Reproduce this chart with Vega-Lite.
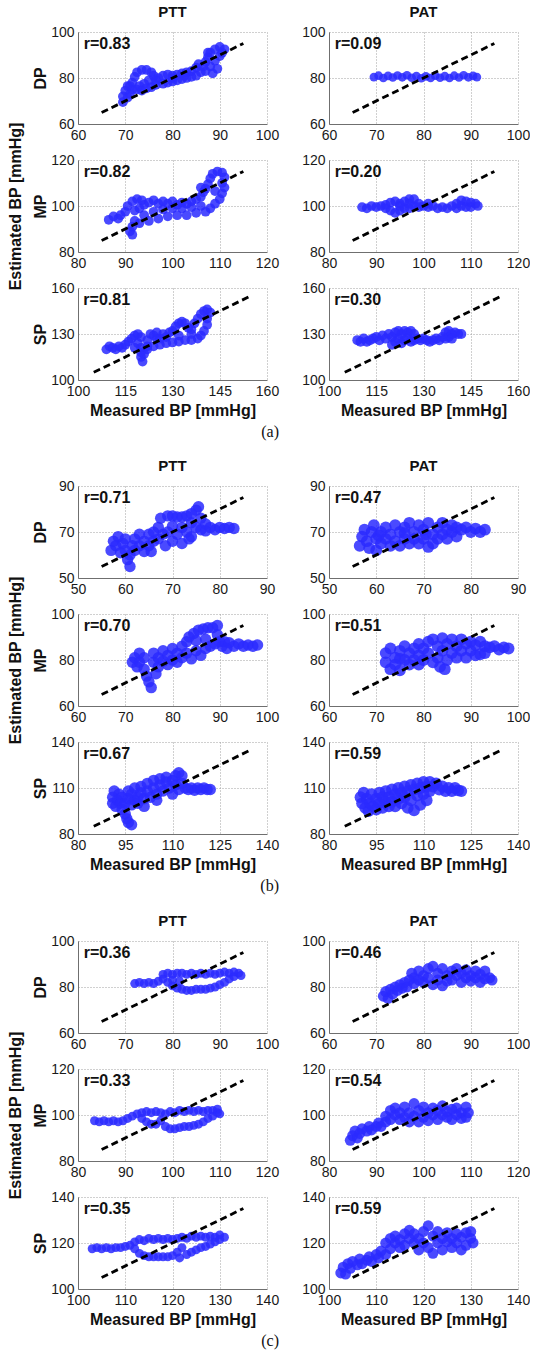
{
"$schema":"https://vega.github.io/schema/vega-lite/v6.json",
"padding":{"left":7,"top":5,"right":0,"bottom":4},
"columns":2,
"spacing":{"row":36,"column":62},
"bounds":"flush",
"align":"each",
"config":{
"view":{"stroke":null},
"font":"Liberation Sans",
"axis":{"labelFont":"Liberation Sans","labelFontSize":14,"labelColor":"#1a1a1a","labelFlush":false,"labelOverlap":false,"labelBound":false,"ticks":false,"domainColor":"#6f6f6f","domainWidth":1,"gridColor":"#a0a0a0","gridDash":[1,2],"gridWidth":1,"titleFont":"Liberation Sans","titleFontSize":16,"titleFontWeight":"bold","titleColor":"#111"},
"axisX":{"labelPadding":4,"titlePadding":4},
"axisY":{"labelPadding":4,"titleX":-30,"titleLineHeight":25},
"title":{"font":"Liberation Sans","fontSize":15,"fontWeight":"bold","color":"#111","offset":5,"anchor":"middle"},
"point":{"shape":"circle","filled":true,"opacity":0.85,"color":"#2a2aff"},
"line":{"color":"black","strokeWidth":2.8,"strokeDash":[7,4]},
"text":{"align":"left","baseline":"middle","fontSize":16,"fontWeight":"bold","font":"Liberation Sans","color":"#111"}
},
"datasets":{
"aDt":[{"x":69.5,"y":69.5},{"x":69.5,"y":72},{"x":70,"y":74.5},{"x":70.5,"y":76.5},{"x":71,"y":73},{"x":71.5,"y":75},{"x":71.5,"y":78},{"x":72,"y":80.5},{"x":72.5,"y":82.5},{"x":73.5,"y":83.5},{"x":74.5,"y":83.5},{"x":75.5,"y":82.5},{"x":76,"y":81},{"x":75,"y":79},{"x":74,"y":77.5},{"x":73,"y":76.5},{"x":72.5,"y":75},{"x":73.5,"y":74.5},{"x":74.5,"y":75.5},{"x":75.5,"y":76},{"x":76.5,"y":77},{"x":77,"y":80},{"x":78,"y":81},{"x":79,"y":81.5},{"x":80,"y":81},{"x":81,"y":81.5},{"x":82,"y":82},{"x":83,"y":82.5},{"x":84,"y":83},{"x":78,"y":77.5},{"x":79,"y":78},{"x":80,"y":78.5},{"x":81,"y":79},{"x":82,"y":79.5},{"x":83,"y":80},{"x":84,"y":80.5},{"x":85,"y":81},{"x":85,"y":84.5},{"x":85.5,"y":86},{"x":86,"y":82.5},{"x":86.5,"y":85},{"x":87,"y":87},{"x":87,"y":83},{"x":87.5,"y":89},{"x":88,"y":85},{"x":88,"y":91},{"x":88.5,"y":82},{"x":89,"y":87.5},{"x":89,"y":92.5},{"x":89.5,"y":84},{"x":90,"y":89.5},{"x":90,"y":93.5},{"x":90.5,"y":91},{"x":91,"y":92.5},{"x":87.5,"y":91},{"x":76.5,"y":79},{"x":80,"y":80},{"x":82.5,"y":81},{"x":71,"y":76.5},{"x":70.5,"y":71.5}],
"aDa":[{"x":69.5,"y":80.4},{"x":70.5,"y":81},{"x":71.5,"y":80},{"x":72.5,"y":80.9},{"x":73.5,"y":80.2},{"x":74.5,"y":81.1},{"x":75.5,"y":80.3},{"x":76.5,"y":81.2},{"x":77.5,"y":80.1},{"x":78.5,"y":80.8},{"x":79.5,"y":79.9},{"x":80.5,"y":80.7},{"x":81.5,"y":80},{"x":82.5,"y":81},{"x":83.5,"y":80.1},{"x":84.5,"y":80.8},{"x":85.5,"y":80},{"x":86.5,"y":81},{"x":87.5,"y":80.2},{"x":88.5,"y":81.2},{"x":89.5,"y":80.3},{"x":90.5,"y":80.9},{"x":91.3,"y":80.4}],
"aMt":[{"x":86.5,"y":94},{"x":87.5,"y":95.5},{"x":88.5,"y":94.5},{"x":89,"y":96},{"x":90,"y":97.5},{"x":90.5,"y":100},{"x":91.5,"y":102},{"x":92.5,"y":103},{"x":93.5,"y":102.5},{"x":94,"y":100.5},{"x":93,"y":99},{"x":92,"y":98},{"x":95,"y":101.5},{"x":96,"y":102.5},{"x":97,"y":101},{"x":98,"y":102},{"x":99,"y":101},{"x":100,"y":102},{"x":101,"y":100.5},{"x":102,"y":101.5},{"x":103,"y":101},{"x":104,"y":102},{"x":105,"y":103},{"x":106,"y":104},{"x":106.5,"y":106},{"x":107,"y":107.5},{"x":106,"y":108},{"x":107.5,"y":109.5},{"x":108,"y":112},{"x":108.5,"y":114},{"x":109.5,"y":115},{"x":110.5,"y":114.5},{"x":111,"y":112.5},{"x":110.5,"y":110},{"x":111,"y":108},{"x":110.5,"y":105.5},{"x":110,"y":103},{"x":109,"y":101},{"x":108,"y":99},{"x":107,"y":97.5},{"x":105,"y":97},{"x":103,"y":96},{"x":101,"y":96},{"x":99,"y":95.5},{"x":97,"y":94.5},{"x":95,"y":93.5},{"x":93,"y":92.5},{"x":91.5,"y":91},{"x":91,"y":89},{"x":91.5,"y":87.5},{"x":92,"y":93.5},{"x":94,"y":96},{"x":96,"y":97.5},{"x":98,"y":98.5},{"x":100,"y":99},{"x":102,"y":99},{"x":104,"y":99.5},{"x":106,"y":100},{"x":109,"y":106.5}],
"aMa":[{"x":87,"y":99.5},{"x":88,"y":99},{"x":89,"y":100},{"x":90,"y":99.5},{"x":91,"y":100},{"x":92,"y":100.5},{"x":93,"y":101.5},{"x":93,"y":98},{"x":94,"y":102},{"x":94,"y":97},{"x":95,"y":101},{"x":95,"y":98},{"x":96,"y":102},{"x":96,"y":99},{"x":97,"y":103},{"x":97,"y":99},{"x":98,"y":103},{"x":98,"y":100},{"x":99,"y":99.5},{"x":100,"y":100},{"x":101,"y":99.5},{"x":102,"y":100},{"x":103,"y":99},{"x":104,"y":99.5},{"x":105,"y":99},{"x":106,"y":100},{"x":107,"y":101},{"x":107,"y":99},{"x":108,"y":102.5},{"x":108,"y":100},{"x":109,"y":102},{"x":109,"y":99.5},{"x":110,"y":101.5},{"x":110,"y":99.5},{"x":111,"y":101},{"x":111.5,"y":100},{"x":92,"y":99},{"x":95,"y":100},{"x":97,"y":101},{"x":99,"y":101},{"x":101,"y":101}],
"aSt":[{"x":109,"y":120},{"x":110,"y":122},{"x":111,"y":121},{"x":112,"y":120},{"x":113,"y":122},{"x":114,"y":121},{"x":115,"y":123},{"x":116,"y":125},{"x":117,"y":127},{"x":118,"y":129},{"x":119,"y":130},{"x":120,"y":128},{"x":119,"y":124},{"x":120,"y":121},{"x":120,"y":118},{"x":120,"y":115},{"x":120.5,"y":112},{"x":121,"y":117},{"x":122,"y":122},{"x":122,"y":126},{"x":123,"y":130},{"x":124,"y":129},{"x":125,"y":127},{"x":125,"y":131},{"x":127,"y":130},{"x":128,"y":128},{"x":129,"y":131},{"x":130,"y":132},{"x":131,"y":135},{"x":132,"y":137},{"x":133,"y":138},{"x":134,"y":137},{"x":135,"y":134},{"x":136,"y":133},{"x":137,"y":137},{"x":138,"y":140},{"x":139,"y":143},{"x":140,"y":145},{"x":141,"y":146},{"x":142,"y":144},{"x":141,"y":140},{"x":141,"y":136},{"x":140,"y":132},{"x":139,"y":129},{"x":138,"y":127},{"x":136,"y":126},{"x":134,"y":126},{"x":132,"y":125},{"x":130,"y":124.5},{"x":128,"y":124},{"x":126,"y":123},{"x":124,"y":122},{"x":122,"y":120},{"x":118,"y":121},{"x":126,"y":127},{"x":132,"y":129},{"x":136,"y":130}],
"aSa":[{"x":109,"y":126},{"x":110,"y":125},{"x":111,"y":127},{"x":112,"y":125},{"x":113,"y":126},{"x":114,"y":127},{"x":115,"y":128},{"x":116,"y":126},{"x":117,"y":129},{"x":118,"y":127},{"x":119,"y":130},{"x":120,"y":128},{"x":120,"y":123},{"x":121,"y":131},{"x":121,"y":125},{"x":122,"y":132},{"x":122,"y":127},{"x":123,"y":130},{"x":123,"y":124},{"x":124,"y":132},{"x":124,"y":126},{"x":125,"y":131},{"x":125,"y":127},{"x":126,"y":132},{"x":126,"y":125},{"x":127,"y":130},{"x":127,"y":126},{"x":128,"y":127},{"x":129,"y":126},{"x":130,"y":127},{"x":131,"y":126},{"x":132,"y":125},{"x":133,"y":126},{"x":134,"y":127},{"x":135,"y":126},{"x":136,"y":128},{"x":137,"y":131},{"x":137,"y":127},{"x":138,"y":132},{"x":138,"y":128},{"x":139,"y":130},{"x":140,"y":131},{"x":141,"y":130},{"x":142,"y":130},{"x":139,"y":127}],
"bDt":[{"x":57,"y":62},{"x":57.5,"y":66},{"x":58,"y":64},{"x":58.5,"y":68},{"x":59,"y":61},{"x":59.5,"y":65},{"x":60,"y":67},{"x":60,"y":62},{"x":60.5,"y":58},{"x":61,"y":55},{"x":61,"y":60},{"x":61.5,"y":64},{"x":62,"y":67},{"x":62,"y":62},{"x":63,"y":69},{"x":63,"y":64},{"x":64,"y":66},{"x":64,"y":61.5},{"x":65,"y":69},{"x":65,"y":64},{"x":66,"y":70},{"x":66,"y":66},{"x":67,"y":72},{"x":67,"y":67},{"x":67.5,"y":76},{"x":68,"y":69},{"x":68.5,"y":64},{"x":69,"y":77},{"x":69,"y":70},{"x":70,"y":77},{"x":70,"y":66},{"x":71,"y":76.5},{"x":71,"y":69},{"x":72,"y":76.5},{"x":72,"y":72},{"x":72,"y":65},{"x":73,"y":77},{"x":73,"y":70},{"x":74,"y":78},{"x":74,"y":74},{"x":74,"y":68},{"x":75,"y":79.5},{"x":75,"y":72},{"x":75.5,"y":81},{"x":76,"y":76},{"x":76,"y":71},{"x":77,"y":73.5},{"x":77,"y":70.5},{"x":78,"y":72},{"x":79,"y":71},{"x":80,"y":72},{"x":81,"y":71.5},{"x":82,"y":72},{"x":83,"y":71.5},{"x":65.5,"y":61.5},{"x":70,"y":72.5},{"x":73.5,"y":67}],
"bDa":[{"x":56.5,"y":64},{"x":57,"y":68},{"x":57.5,"y":71},{"x":58,"y":66},{"x":58.5,"y":63},{"x":59,"y":70},{"x":59.5,"y":73},{"x":60,"y":67},{"x":60,"y":62},{"x":61,"y":70},{"x":61,"y":65},{"x":62,"y":72},{"x":62,"y":67},{"x":63,"y":69},{"x":63,"y":64},{"x":64,"y":73},{"x":64,"y":66},{"x":65,"y":70},{"x":65,"y":64},{"x":66,"y":72},{"x":66,"y":67},{"x":67,"y":74},{"x":67,"y":65},{"x":68,"y":70},{"x":68,"y":67},{"x":69,"y":73},{"x":69,"y":65},{"x":70,"y":71},{"x":70,"y":67},{"x":71,"y":74},{"x":71,"y":63.5},{"x":72,"y":69},{"x":72,"y":65},{"x":73,"y":72},{"x":73,"y":67},{"x":74,"y":74},{"x":74,"y":69},{"x":75,"y":71},{"x":75,"y":67},{"x":76,"y":73},{"x":76,"y":70},{"x":77,"y":72},{"x":77,"y":68},{"x":78,"y":71},{"x":79,"y":72},{"x":80,"y":70},{"x":81,"y":71.5},{"x":82,"y":70},{"x":83,"y":71},{"x":60.5,"y":68.5},{"x":66,"y":69.5},{"x":70.5,"y":69}],
"bMt":[{"x":71.5,"y":79},{"x":72,"y":81},{"x":72.5,"y":77},{"x":73,"y":83},{"x":73,"y":79},{"x":74,"y":81},{"x":74,"y":76},{"x":74.5,"y":73},{"x":75,"y":70.5},{"x":75.5,"y":68},{"x":76,"y":79},{"x":76,"y":83},{"x":77,"y":81},{"x":77,"y":77},{"x":78,"y":84},{"x":78,"y":79.5},{"x":79,"y":82},{"x":79,"y":78},{"x":80,"y":85},{"x":80,"y":80},{"x":81,"y":83},{"x":81,"y":79},{"x":82,"y":86},{"x":82,"y":81},{"x":83,"y":88},{"x":83,"y":83},{"x":83.5,"y":90},{"x":84,"y":80.5},{"x":84.5,"y":91.5},{"x":85,"y":84},{"x":85.5,"y":93},{"x":86,"y":82},{"x":86.5,"y":93.5},{"x":87,"y":85},{"x":87.5,"y":94},{"x":88,"y":86},{"x":88.5,"y":94},{"x":89,"y":87},{"x":89.5,"y":95},{"x":89.5,"y":91},{"x":90,"y":88},{"x":90.5,"y":86},{"x":91,"y":88},{"x":91.5,"y":85},{"x":92,"y":87.5},{"x":93,"y":86},{"x":94,"y":87},{"x":95,"y":86},{"x":96,"y":86.5},{"x":97,"y":86},{"x":98,"y":86.5},{"x":76.5,"y":74},{"x":85,"y":88.5},{"x":87,"y":89}],
"bMa":[{"x":72,"y":79},{"x":72,"y":83},{"x":73,"y":76},{"x":73,"y":85},{"x":74,"y":81},{"x":74,"y":78},{"x":75,"y":84},{"x":75,"y":75.5},{"x":76,"y":80},{"x":76,"y":86},{"x":77,"y":83},{"x":77,"y":78},{"x":78,"y":85},{"x":78,"y":80},{"x":79,"y":82},{"x":79,"y":78},{"x":80,"y":85},{"x":80,"y":80},{"x":81,"y":88},{"x":81,"y":83},{"x":82,"y":89},{"x":82,"y":79},{"x":83,"y":86},{"x":83,"y":81},{"x":83.5,"y":77},{"x":84,"y":89.5},{"x":84,"y":84},{"x":84.5,"y":76},{"x":85,"y":87},{"x":85,"y":80},{"x":86,"y":89},{"x":86,"y":83},{"x":87,"y":86},{"x":87,"y":81},{"x":88,"y":89},{"x":88,"y":84},{"x":89,"y":87},{"x":89,"y":81},{"x":90,"y":88},{"x":90,"y":84},{"x":91,"y":86.5},{"x":91,"y":82},{"x":92,"y":88},{"x":92,"y":82.5},{"x":93,"y":86},{"x":93,"y":83},{"x":94,"y":85.5},{"x":95,"y":86},{"x":96,"y":84.5},{"x":97,"y":85.5},{"x":98,"y":85},{"x":75,"y":80.5},{"x":79,"y":87}],
"bSt":[{"x":91,"y":100},{"x":91,"y":104},{"x":91.5,"y":108},{"x":92,"y":98},{"x":92.5,"y":102},{"x":93,"y":106},{"x":93.5,"y":100},{"x":94,"y":96},{"x":94,"y":104},{"x":95,"y":93},{"x":95.5,"y":90},{"x":96,"y":87.5},{"x":97,"y":86},{"x":95,"y":100},{"x":96,"y":108},{"x":96,"y":103},{"x":97,"y":99},{"x":97,"y":106},{"x":98,"y":102},{"x":98,"y":110},{"x":99,"y":104},{"x":99,"y":100},{"x":100,"y":107},{"x":100,"y":111},{"x":101,"y":103},{"x":102,"y":108},{"x":102,"y":113},{"x":103,"y":104},{"x":104,"y":110},{"x":104,"y":115},{"x":105,"y":106},{"x":106,"y":112},{"x":106,"y":116},{"x":107,"y":108},{"x":108,"y":114},{"x":108,"y":117},{"x":109,"y":110},{"x":110,"y":115},{"x":110,"y":106},{"x":111,"y":112},{"x":111,"y":118},{"x":112,"y":120},{"x":112,"y":109},{"x":113,"y":118},{"x":113,"y":113},{"x":114,"y":110},{"x":115,"y":109},{"x":116,"y":110},{"x":117,"y":108.5},{"x":118,"y":110},{"x":119,"y":109},{"x":120,"y":110},{"x":121,"y":109},{"x":122,"y":109},{"x":101,"y":98},{"x":105,"y":102}],
"bSa":[{"x":90,"y":104},{"x":90.5,"y":100},{"x":91,"y":107},{"x":91.5,"y":97},{"x":92,"y":103},{"x":92.5,"y":95},{"x":93,"y":100},{"x":93.5,"y":106},{"x":94,"y":98},{"x":95,"y":103},{"x":95,"y":96},{"x":96,"y":107},{"x":96,"y":100},{"x":97,"y":104},{"x":97,"y":97},{"x":98,"y":108},{"x":98,"y":101},{"x":99,"y":104},{"x":99,"y":98},{"x":100,"y":109},{"x":100,"y":101},{"x":101,"y":106},{"x":101,"y":98},{"x":102,"y":110},{"x":102,"y":103},{"x":103,"y":107},{"x":103,"y":100},{"x":104,"y":111},{"x":104,"y":104},{"x":105,"y":108},{"x":105,"y":97},{"x":106,"y":112},{"x":106,"y":102},{"x":107,"y":109},{"x":107,"y":95.5},{"x":108,"y":113},{"x":108,"y":105},{"x":109,"y":110},{"x":109,"y":99},{"x":110,"y":114},{"x":110,"y":106},{"x":111,"y":111},{"x":111,"y":102},{"x":112,"y":114},{"x":112,"y":108},{"x":113,"y":111},{"x":114,"y":113},{"x":115,"y":109},{"x":116,"y":111},{"x":117,"y":108},{"x":118,"y":110},{"x":119,"y":108},{"x":120,"y":110},{"x":121,"y":108.5},{"x":122,"y":108}],
"cDt":[{"x":72,"y":81.5},{"x":73,"y":82},{"x":74,"y":81.5},{"x":75,"y":82},{"x":76,"y":81.5},{"x":77,"y":82.5},{"x":78,"y":83.5},{"x":78,"y":85.5},{"x":79,"y":86},{"x":79,"y":82},{"x":80,"y":85.5},{"x":80,"y":80.5},{"x":81,"y":86},{"x":81,"y":79.5},{"x":81.5,"y":82.5},{"x":82,"y":86},{"x":82,"y":79},{"x":83,"y":85.5},{"x":83,"y":78.5},{"x":84,"y":86},{"x":84,"y":78.5},{"x":85,"y":85.5},{"x":85,"y":79},{"x":86,"y":86},{"x":86,"y":79},{"x":87,"y":85.5},{"x":87,"y":79},{"x":88,"y":86},{"x":88,"y":79.5},{"x":89,"y":85.5},{"x":89,"y":80},{"x":90,"y":86},{"x":90,"y":81},{"x":91,"y":86.5},{"x":91,"y":82},{"x":92,"y":86},{"x":92,"y":83.5},{"x":93,"y":86.5},{"x":93,"y":84.5},{"x":94,"y":86},{"x":94.5,"y":85},{"x":80,"y":83}],
"cDa":[{"x":71.5,"y":76},{"x":72,"y":78},{"x":72.5,"y":75},{"x":73,"y":79},{"x":73.5,"y":77},{"x":74,"y":80},{"x":74.5,"y":78.5},{"x":75,"y":81},{"x":75.5,"y":79.5},{"x":76,"y":82},{"x":76.5,"y":80},{"x":77,"y":83},{"x":77.5,"y":86},{"x":78,"y":84},{"x":78,"y":81.5},{"x":79,"y":87},{"x":79,"y":83},{"x":80,"y":85},{"x":80,"y":82},{"x":81,"y":88},{"x":81,"y":84},{"x":82,"y":89},{"x":82,"y":81},{"x":83,"y":86},{"x":83,"y":83},{"x":84,"y":88},{"x":84,"y":80.5},{"x":85,"y":85},{"x":85,"y":82.5},{"x":86,"y":87},{"x":86,"y":83},{"x":87,"y":85},{"x":87,"y":88},{"x":88,"y":82},{"x":88,"y":86},{"x":89,"y":84},{"x":89,"y":87.5},{"x":90,"y":85},{"x":90,"y":82.5},{"x":91,"y":87},{"x":91,"y":84},{"x":92,"y":85.5},{"x":92,"y":82},{"x":93,"y":87},{"x":93,"y":83.5},{"x":94,"y":84},{"x":94.5,"y":83}],
"cMt":[{"x":83.5,"y":97.5},{"x":84.5,"y":97},{"x":85.5,"y":97.5},{"x":86.5,"y":97},{"x":87.5,"y":97.5},{"x":88.5,"y":97},{"x":89.5,"y":97.5},{"x":90.5,"y":98.5},{"x":91.5,"y":99.5},{"x":92.5,"y":100.5},{"x":93.5,"y":101},{"x":93.5,"y":98.5},{"x":94.5,"y":101.5},{"x":94.5,"y":97},{"x":95.5,"y":101},{"x":95.5,"y":96},{"x":96.5,"y":101.5},{"x":96.5,"y":96},{"x":97.5,"y":101},{"x":97.5,"y":97.5},{"x":98.5,"y":100.5},{"x":98.5,"y":95},{"x":99.5,"y":101.5},{"x":99.5,"y":94},{"x":100.5,"y":101},{"x":100.5,"y":94},{"x":101.5,"y":102},{"x":101.5,"y":94.5},{"x":102.5,"y":101.5},{"x":102.5,"y":95},{"x":103.5,"y":102},{"x":103.5,"y":95},{"x":104.5,"y":101.5},{"x":104.5,"y":95.5},{"x":105.5,"y":102},{"x":105.5,"y":96},{"x":106.5,"y":101.5},{"x":106.5,"y":97},{"x":107.5,"y":102},{"x":107.5,"y":98.5},{"x":108.5,"y":102},{"x":108.5,"y":99.5},{"x":109.5,"y":101},{"x":109.5,"y":102.5},{"x":110,"y":100.5}],
"cMa":[{"x":84.5,"y":89},{"x":85,"y":91},{"x":85.5,"y":93},{"x":86,"y":90},{"x":86.5,"y":92},{"x":87,"y":94},{"x":88,"y":93},{"x":88.5,"y":95},{"x":89,"y":93.5},{"x":90,"y":95},{"x":90.5,"y":96.5},{"x":91,"y":95},{"x":92,"y":97},{"x":92,"y":99.5},{"x":93,"y":102},{"x":93,"y":98},{"x":94,"y":100},{"x":94,"y":103},{"x":95,"y":98},{"x":95,"y":101},{"x":96,"y":99},{"x":96,"y":103.5},{"x":97,"y":101},{"x":97,"y":97},{"x":98,"y":105},{"x":98,"y":99.5},{"x":99,"y":102},{"x":99,"y":97},{"x":100,"y":103.5},{"x":100,"y":99},{"x":101,"y":101},{"x":101,"y":97.5},{"x":102,"y":103},{"x":102,"y":100},{"x":103,"y":98},{"x":103,"y":102},{"x":104,"y":100},{"x":104,"y":104},{"x":105,"y":99},{"x":105,"y":101.5},{"x":106,"y":102.5},{"x":106,"y":98},{"x":107,"y":100},{"x":107,"y":103},{"x":108,"y":98.5},{"x":108,"y":101},{"x":109,"y":103.5},{"x":109,"y":99},{"x":109.5,"y":101}],
"cSt":[{"x":103,"y":117.5},{"x":104,"y":118},{"x":105,"y":117.5},{"x":106,"y":118},{"x":107,"y":117.5},{"x":108,"y":118},{"x":109,"y":118},{"x":110,"y":118.5},{"x":111,"y":119},{"x":112,"y":120.5},{"x":112,"y":117.5},{"x":113,"y":121.5},{"x":113,"y":115.5},{"x":114,"y":121},{"x":114,"y":114.5},{"x":115,"y":122},{"x":115,"y":114},{"x":116,"y":121.5},{"x":116,"y":114},{"x":117,"y":122},{"x":117,"y":114},{"x":118,"y":121.5},{"x":118,"y":114},{"x":119,"y":122},{"x":119,"y":114},{"x":120,"y":121.5},{"x":120,"y":114.5},{"x":121,"y":122},{"x":121,"y":116},{"x":121.5,"y":113.5},{"x":122,"y":122.5},{"x":122,"y":118},{"x":123,"y":122},{"x":123,"y":115},{"x":124,"y":123},{"x":124,"y":116},{"x":125,"y":122.5},{"x":125,"y":117},{"x":126,"y":123},{"x":126,"y":118},{"x":127,"y":122.5},{"x":127,"y":118.5},{"x":128,"y":123},{"x":128,"y":119.5},{"x":129,"y":122.5},{"x":129,"y":120.5},{"x":130,"y":123.5},{"x":130,"y":121.5},{"x":131,"y":122.5}],
"cSa":[{"x":102.5,"y":107},{"x":103,"y":109.5},{"x":103.5,"y":106.5},{"x":104,"y":111},{"x":104.5,"y":109},{"x":105,"y":112},{"x":106,"y":110.5},{"x":106.5,"y":113},{"x":107,"y":111},{"x":108,"y":112.5},{"x":108.5,"y":114},{"x":109,"y":112},{"x":110,"y":115},{"x":110.5,"y":113.5},{"x":111,"y":116.5},{"x":112,"y":115},{"x":112,"y":120},{"x":113,"y":122},{"x":113,"y":117.5},{"x":114,"y":120},{"x":114,"y":123},{"x":115,"y":118},{"x":115,"y":121.5},{"x":116,"y":124},{"x":116,"y":119},{"x":117,"y":122},{"x":117,"y":125.5},{"x":118,"y":120},{"x":118,"y":124},{"x":119,"y":122},{"x":119,"y":117},{"x":120,"y":125},{"x":120,"y":120},{"x":121,"y":127.5},{"x":121,"y":118},{"x":122,"y":123},{"x":122,"y":115.5},{"x":123,"y":125},{"x":123,"y":120},{"x":124,"y":122},{"x":124,"y":117},{"x":125,"y":124.5},{"x":125,"y":120.5},{"x":126,"y":122},{"x":126,"y":118},{"x":127,"y":124},{"x":127,"y":120},{"x":128,"y":122.5},{"x":128,"y":117},{"x":129,"y":124.5},{"x":129,"y":119},{"x":130,"y":122},{"x":130,"y":125},{"x":130.5,"y":120}]
},
"concat":[
{"width":189,"height":92,"title":{"text":"PTT"},"layer":[
{"data":{"name":"aDt"},"mark":{"type":"point","size":95},"encoding":{"x":{"field":"x","type":"quantitative","scale":{"domain":[60,100]},"axis":{"values":[60,70,80,90,100],"title":null}},"y":{"field":"y","type":"quantitative","scale":{"domain":[60,100]},"axis":{"values":[60,70,80,90,100],"labelExpr":"datum.value % 20 == 0 ? datum.label : ''","title":"DP"}}}},
{"data":{"values":[{"x":65,"y":65},{"x":95,"y":95}]},"mark":{"type":"line"},"encoding":{"x":{"field":"x","type":"quantitative"},"y":{"field":"y","type":"quantitative"}}},
{"data":{"values":[{"r":"r=0.83"}]},"mark":{"type":"text"},"encoding":{"x":{"datum":61.2,"type":"quantitative"},"y":{"datum":94.8,"type":"quantitative"},"text":{"field":"r","type":"nominal"}}}]},
{"width":189,"height":92,"title":{"text":"PAT"},"layer":[
{"data":{"name":"aDa"},"mark":{"type":"point","size":75},"encoding":{"x":{"field":"x","type":"quantitative","scale":{"domain":[60,100]},"axis":{"values":[60,70,80,90,100],"title":null}},"y":{"field":"y","type":"quantitative","scale":{"domain":[60,100]},"axis":{"values":[60,70,80,90,100],"labelExpr":"datum.value % 20 == 0 ? datum.label : ''","title":null}}}},
{"data":{"values":[{"x":65,"y":65},{"x":95,"y":95}]},"mark":{"type":"line"},"encoding":{"x":{"field":"x","type":"quantitative"},"y":{"field":"y","type":"quantitative"}}},
{"data":{"values":[{"r":"r=0.09"}]},"mark":{"type":"text"},"encoding":{"x":{"datum":61.2,"type":"quantitative"},"y":{"datum":94.8,"type":"quantitative"},"text":{"field":"r","type":"nominal"}}}]},
{"width":189,"height":92,"layer":[
{"data":{"name":"aMt"},"mark":{"type":"point","size":95},"encoding":{"x":{"field":"x","type":"quantitative","scale":{"domain":[80,120]},"axis":{"values":[80,90,100,110,120],"title":null}},"y":{"field":"y","type":"quantitative","scale":{"domain":[80,120]},"axis":{"values":[80,90,100,110,120],"labelExpr":"datum.value % 20 == 0 ? datum.label : ''","title":["Estimated BP [mmHg]","MP"],"titleX":-55}}}},
{"data":{"values":[{"x":85,"y":85},{"x":115,"y":115}]},"mark":{"type":"line"},"encoding":{"x":{"field":"x","type":"quantitative"},"y":{"field":"y","type":"quantitative"}}},
{"data":{"values":[{"r":"r=0.82"}]},"mark":{"type":"text"},"encoding":{"x":{"datum":81.2,"type":"quantitative"},"y":{"datum":114.8,"type":"quantitative"},"text":{"field":"r","type":"nominal"}}}]},
{"width":189,"height":92,"layer":[
{"data":{"name":"aMa"},"mark":{"type":"point","size":95},"encoding":{"x":{"field":"x","type":"quantitative","scale":{"domain":[80,120]},"axis":{"values":[80,90,100,110,120],"title":null}},"y":{"field":"y","type":"quantitative","scale":{"domain":[80,120]},"axis":{"values":[80,90,100,110,120],"labelExpr":"datum.value % 20 == 0 ? datum.label : ''","title":null}}}},
{"data":{"values":[{"x":85,"y":85},{"x":115,"y":115}]},"mark":{"type":"line"},"encoding":{"x":{"field":"x","type":"quantitative"},"y":{"field":"y","type":"quantitative"}}},
{"data":{"values":[{"r":"r=0.20"}]},"mark":{"type":"text"},"encoding":{"x":{"datum":81.2,"type":"quantitative"},"y":{"datum":114.8,"type":"quantitative"},"text":{"field":"r","type":"nominal"}}}]},
{"width":189,"height":92,"title":{"text":"(a)","orient":"bottom","anchor":"end","frame":"group","font":"Liberation Serif","fontWeight":"normal","fontSize":16,"dx":12,"offset":6},"layer":[
{"data":{"name":"aSt"},"mark":{"type":"point","size":95},"encoding":{"x":{"field":"x","type":"quantitative","scale":{"domain":[100,160]},"axis":{"values":[100,115,130,145,160],"title":"Measured BP [mmHg]"}},"y":{"field":"y","type":"quantitative","scale":{"domain":[100,160]},"axis":{"values":[100,115,130,145,160],"labelExpr":"(datum.value - 100) % 30 == 0 ? datum.label : ''","title":"SP"}}}},
{"data":{"values":[{"x":105,"y":105},{"x":155,"y":155}]},"mark":{"type":"line"},"encoding":{"x":{"field":"x","type":"quantitative"},"y":{"field":"y","type":"quantitative"}}},
{"data":{"values":[{"r":"r=0.81"}]},"mark":{"type":"text"},"encoding":{"x":{"datum":101.7,"type":"quantitative"},"y":{"datum":152.2,"type":"quantitative"},"text":{"field":"r","type":"nominal"}}}]},
{"width":189,"height":92,"layer":[
{"data":{"name":"aSa"},"mark":{"type":"point","size":100},"encoding":{"x":{"field":"x","type":"quantitative","scale":{"domain":[100,160]},"axis":{"values":[100,115,130,145,160],"title":"Measured BP [mmHg]"}},"y":{"field":"y","type":"quantitative","scale":{"domain":[100,160]},"axis":{"values":[100,115,130,145,160],"labelExpr":"(datum.value - 100) % 30 == 0 ? datum.label : ''","title":null}}}},
{"data":{"values":[{"x":105,"y":105},{"x":155,"y":155}]},"mark":{"type":"line"},"encoding":{"x":{"field":"x","type":"quantitative"},"y":{"field":"y","type":"quantitative"}}},
{"data":{"values":[{"r":"r=0.30"}]},"mark":{"type":"text"},"encoding":{"x":{"datum":101.7,"type":"quantitative"},"y":{"datum":152.2,"type":"quantitative"},"text":{"field":"r","type":"nominal"}}}]},
{"width":189,"height":34,"data":{"values":[]},"mark":"point"},
{"width":189,"height":34,"data":{"values":[]},"mark":"point"},
{"width":189,"height":92,"title":{"text":"PTT"},"layer":[
{"data":{"name":"bDt"},"mark":{"type":"point","size":130},"encoding":{"x":{"field":"x","type":"quantitative","scale":{"domain":[50,90]},"axis":{"values":[50,60,70,80,90],"title":null}},"y":{"field":"y","type":"quantitative","scale":{"domain":[50,90]},"axis":{"values":[50,60,70,80,90],"labelExpr":"datum.value % 20 == 10 ? datum.label : ''","title":"DP"}}}},
{"data":{"values":[{"x":55,"y":55},{"x":85,"y":85}]},"mark":{"type":"line"},"encoding":{"x":{"field":"x","type":"quantitative"},"y":{"field":"y","type":"quantitative"}}},
{"data":{"values":[{"r":"r=0.71"}]},"mark":{"type":"text"},"encoding":{"x":{"datum":51.2,"type":"quantitative"},"y":{"datum":84.8,"type":"quantitative"},"text":{"field":"r","type":"nominal"}}}]},
{"width":189,"height":92,"title":{"text":"PAT"},"layer":[
{"data":{"name":"bDa"},"mark":{"type":"point","size":140},"encoding":{"x":{"field":"x","type":"quantitative","scale":{"domain":[50,90]},"axis":{"values":[50,60,70,80,90],"title":null}},"y":{"field":"y","type":"quantitative","scale":{"domain":[50,90]},"axis":{"values":[50,60,70,80,90],"labelExpr":"datum.value % 20 == 10 ? datum.label : ''","title":null}}}},
{"data":{"values":[{"x":55,"y":55},{"x":85,"y":85}]},"mark":{"type":"line"},"encoding":{"x":{"field":"x","type":"quantitative"},"y":{"field":"y","type":"quantitative"}}},
{"data":{"values":[{"r":"r=0.47"}]},"mark":{"type":"text"},"encoding":{"x":{"datum":51.2,"type":"quantitative"},"y":{"datum":84.8,"type":"quantitative"},"text":{"field":"r","type":"nominal"}}}]},
{"width":189,"height":92,"layer":[
{"data":{"name":"bMt"},"mark":{"type":"point","size":130},"encoding":{"x":{"field":"x","type":"quantitative","scale":{"domain":[60,100]},"axis":{"values":[60,70,80,90,100],"title":null}},"y":{"field":"y","type":"quantitative","scale":{"domain":[60,100]},"axis":{"values":[60,70,80,90,100],"labelExpr":"datum.value % 20 == 0 ? datum.label : ''","title":["Estimated BP [mmHg]","MP"],"titleX":-55}}}},
{"data":{"values":[{"x":65,"y":65},{"x":95,"y":95}]},"mark":{"type":"line"},"encoding":{"x":{"field":"x","type":"quantitative"},"y":{"field":"y","type":"quantitative"}}},
{"data":{"values":[{"r":"r=0.70"}]},"mark":{"type":"text"},"encoding":{"x":{"datum":61.2,"type":"quantitative"},"y":{"datum":94.8,"type":"quantitative"},"text":{"field":"r","type":"nominal"}}}]},
{"width":189,"height":92,"layer":[
{"data":{"name":"bMa"},"mark":{"type":"point","size":140},"encoding":{"x":{"field":"x","type":"quantitative","scale":{"domain":[60,100]},"axis":{"values":[60,70,80,90,100],"title":null}},"y":{"field":"y","type":"quantitative","scale":{"domain":[60,100]},"axis":{"values":[60,70,80,90,100],"labelExpr":"datum.value % 20 == 0 ? datum.label : ''","title":null}}}},
{"data":{"values":[{"x":65,"y":65},{"x":95,"y":95}]},"mark":{"type":"line"},"encoding":{"x":{"field":"x","type":"quantitative"},"y":{"field":"y","type":"quantitative"}}},
{"data":{"values":[{"r":"r=0.51"}]},"mark":{"type":"text"},"encoding":{"x":{"datum":61.2,"type":"quantitative"},"y":{"datum":94.8,"type":"quantitative"},"text":{"field":"r","type":"nominal"}}}]},
{"width":189,"height":92,"title":{"text":"(b)","orient":"bottom","anchor":"end","frame":"group","font":"Liberation Serif","fontWeight":"normal","fontSize":16,"dx":12,"offset":6},"layer":[
{"data":{"name":"bSt"},"mark":{"type":"point","size":130},"encoding":{"x":{"field":"x","type":"quantitative","scale":{"domain":[80,140]},"axis":{"values":[80,95,110,125,140],"title":"Measured BP [mmHg]"}},"y":{"field":"y","type":"quantitative","scale":{"domain":[80,140]},"axis":{"values":[80,95,110,125,140],"labelExpr":"(datum.value - 80) % 30 == 0 ? datum.label : ''","title":"SP"}}}},
{"data":{"values":[{"x":85,"y":85},{"x":135,"y":135}]},"mark":{"type":"line"},"encoding":{"x":{"field":"x","type":"quantitative"},"y":{"field":"y","type":"quantitative"}}},
{"data":{"values":[{"r":"r=0.67"}]},"mark":{"type":"text"},"encoding":{"x":{"datum":81.7,"type":"quantitative"},"y":{"datum":132.2,"type":"quantitative"},"text":{"field":"r","type":"nominal"}}}]},
{"width":189,"height":92,"layer":[
{"data":{"name":"bSa"},"mark":{"type":"point","size":140},"encoding":{"x":{"field":"x","type":"quantitative","scale":{"domain":[80,140]},"axis":{"values":[80,95,110,125,140],"title":"Measured BP [mmHg]"}},"y":{"field":"y","type":"quantitative","scale":{"domain":[80,140]},"axis":{"values":[80,95,110,125,140],"labelExpr":"(datum.value - 80) % 30 == 0 ? datum.label : ''","title":null}}}},
{"data":{"values":[{"x":85,"y":85},{"x":135,"y":135}]},"mark":{"type":"line"},"encoding":{"x":{"field":"x","type":"quantitative"},"y":{"field":"y","type":"quantitative"}}},
{"data":{"values":[{"r":"r=0.59"}]},"mark":{"type":"text"},"encoding":{"x":{"datum":81.7,"type":"quantitative"},"y":{"datum":132.2,"type":"quantitative"},"text":{"field":"r","type":"nominal"}}}]},
{"width":189,"height":35,"data":{"values":[]},"mark":"point"},
{"width":189,"height":35,"data":{"values":[]},"mark":"point"},
{"width":189,"height":92,"title":{"text":"PTT"},"layer":[
{"data":{"name":"cDt"},"mark":{"type":"point","size":80},"encoding":{"x":{"field":"x","type":"quantitative","scale":{"domain":[60,100]},"axis":{"values":[60,70,80,90,100],"title":null}},"y":{"field":"y","type":"quantitative","scale":{"domain":[60,100]},"axis":{"values":[60,70,80,90,100],"labelExpr":"datum.value % 20 == 0 ? datum.label : ''","title":"DP"}}}},
{"data":{"values":[{"x":65,"y":65},{"x":95,"y":95}]},"mark":{"type":"line"},"encoding":{"x":{"field":"x","type":"quantitative"},"y":{"field":"y","type":"quantitative"}}},
{"data":{"values":[{"r":"r=0.36"}]},"mark":{"type":"text"},"encoding":{"x":{"datum":61.2,"type":"quantitative"},"y":{"datum":94.8,"type":"quantitative"},"text":{"field":"r","type":"nominal"}}}]},
{"width":189,"height":92,"title":{"text":"PAT"},"layer":[
{"data":{"name":"cDa"},"mark":{"type":"point","size":120},"encoding":{"x":{"field":"x","type":"quantitative","scale":{"domain":[60,100]},"axis":{"values":[60,70,80,90,100],"title":null}},"y":{"field":"y","type":"quantitative","scale":{"domain":[60,100]},"axis":{"values":[60,70,80,90,100],"labelExpr":"datum.value % 20 == 0 ? datum.label : ''","title":null}}}},
{"data":{"values":[{"x":65,"y":65},{"x":95,"y":95}]},"mark":{"type":"line"},"encoding":{"x":{"field":"x","type":"quantitative"},"y":{"field":"y","type":"quantitative"}}},
{"data":{"values":[{"r":"r=0.46"}]},"mark":{"type":"text"},"encoding":{"x":{"datum":61.2,"type":"quantitative"},"y":{"datum":94.8,"type":"quantitative"},"text":{"field":"r","type":"nominal"}}}]},
{"width":189,"height":92,"layer":[
{"data":{"name":"cMt"},"mark":{"type":"point","size":80},"encoding":{"x":{"field":"x","type":"quantitative","scale":{"domain":[80,120]},"axis":{"values":[80,90,100,110,120],"title":null}},"y":{"field":"y","type":"quantitative","scale":{"domain":[80,120]},"axis":{"values":[80,90,100,110,120],"labelExpr":"datum.value % 20 == 0 ? datum.label : ''","title":["Estimated BP [mmHg]","MP"],"titleX":-55}}}},
{"data":{"values":[{"x":85,"y":85},{"x":115,"y":115}]},"mark":{"type":"line"},"encoding":{"x":{"field":"x","type":"quantitative"},"y":{"field":"y","type":"quantitative"}}},
{"data":{"values":[{"r":"r=0.33"}]},"mark":{"type":"text"},"encoding":{"x":{"datum":81.2,"type":"quantitative"},"y":{"datum":114.8,"type":"quantitative"},"text":{"field":"r","type":"nominal"}}}]},
{"width":189,"height":92,"layer":[
{"data":{"name":"cMa"},"mark":{"type":"point","size":120},"encoding":{"x":{"field":"x","type":"quantitative","scale":{"domain":[80,120]},"axis":{"values":[80,90,100,110,120],"title":null}},"y":{"field":"y","type":"quantitative","scale":{"domain":[80,120]},"axis":{"values":[80,90,100,110,120],"labelExpr":"datum.value % 20 == 0 ? datum.label : ''","title":null}}}},
{"data":{"values":[{"x":85,"y":85},{"x":115,"y":115}]},"mark":{"type":"line"},"encoding":{"x":{"field":"x","type":"quantitative"},"y":{"field":"y","type":"quantitative"}}},
{"data":{"values":[{"r":"r=0.54"}]},"mark":{"type":"text"},"encoding":{"x":{"datum":81.2,"type":"quantitative"},"y":{"datum":114.8,"type":"quantitative"},"text":{"field":"r","type":"nominal"}}}]},
{"width":189,"height":92,"title":{"text":"(c)","orient":"bottom","anchor":"end","frame":"group","font":"Liberation Serif","fontWeight":"normal","fontSize":16,"dx":12,"offset":6},"layer":[
{"data":{"name":"cSt"},"mark":{"type":"point","size":80},"encoding":{"x":{"field":"x","type":"quantitative","scale":{"domain":[100,140]},"axis":{"values":[100,110,120,130,140],"title":"Measured BP [mmHg]"}},"y":{"field":"y","type":"quantitative","scale":{"domain":[100,140]},"axis":{"values":[100,110,120,130,140],"labelExpr":"datum.value % 20 == 0 ? datum.label : ''","title":"SP"}}}},
{"data":{"values":[{"x":105,"y":105},{"x":135,"y":135}]},"mark":{"type":"line"},"encoding":{"x":{"field":"x","type":"quantitative"},"y":{"field":"y","type":"quantitative"}}},
{"data":{"values":[{"r":"r=0.35"}]},"mark":{"type":"text"},"encoding":{"x":{"datum":101.2,"type":"quantitative"},"y":{"datum":134.8,"type":"quantitative"},"text":{"field":"r","type":"nominal"}}}]},
{"width":189,"height":92,"layer":[
{"data":{"name":"cSa"},"mark":{"type":"point","size":120},"encoding":{"x":{"field":"x","type":"quantitative","scale":{"domain":[100,140]},"axis":{"values":[100,110,120,130,140],"title":"Measured BP [mmHg]"}},"y":{"field":"y","type":"quantitative","scale":{"domain":[100,140]},"axis":{"values":[100,110,120,130,140],"labelExpr":"datum.value % 20 == 0 ? datum.label : ''","title":null}}}},
{"data":{"values":[{"x":105,"y":105},{"x":135,"y":135}]},"mark":{"type":"line"},"encoding":{"x":{"field":"x","type":"quantitative"},"y":{"field":"y","type":"quantitative"}}},
{"data":{"values":[{"r":"r=0.59"}]},"mark":{"type":"text"},"encoding":{"x":{"datum":101.2,"type":"quantitative"},"y":{"datum":134.8,"type":"quantitative"},"text":{"field":"r","type":"nominal"}}}]}
]
}
